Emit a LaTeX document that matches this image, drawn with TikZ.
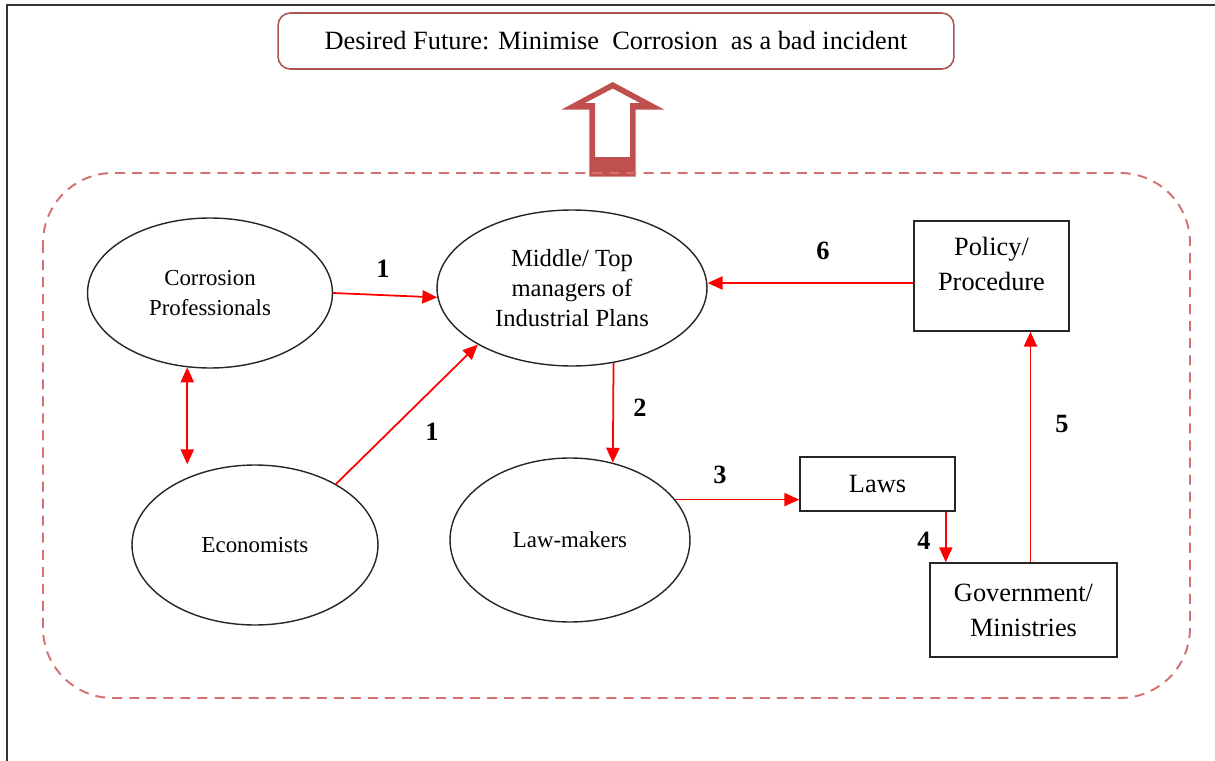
\documentclass[tikz,border=0pt]{standalone}
\usepackage{fontspec}
\setmainfont{Liberation Serif}
\usetikzlibrary{shapes.geometric,arrows.meta,calc}
\definecolor{goalred}{RGB}{170,85,85}
\definecolor{bigred}{RGB}{192,80,77}
\definecolor{dashred}{RGB}{212,112,112}

\begin{document}
\begin{tikzpicture}
[x=0.02cm,y=-0.02cm,
 ell/.style={ellipse,draw=black!85,line width=0.8pt,inner sep=0pt,align=center,font=\fontsize{13}{17.5}\selectfont},
 box/.style={rectangle,draw=black!85,line width=0.9pt,inner sep=0pt,align=center,font=\fontsize{15}{20}\selectfont},
 flow/.style={red,line width=1pt,-{Triangle[length=8.5pt,width=7.5pt]}},
 dflow/.style={red,line width=1pt,{Triangle[length=8.5pt,width=7.5pt]}-{Triangle[length=8.5pt,width=7.5pt]}},
 num/.style={font=\fontsize{15}{16}\selectfont\bfseries,inner sep=0pt}]

  \useasboundingbox (0,0) rectangle (1215,761);
  % frame
  \draw[black!80,line width=1.3pt] (7,761) -- (7,5) -- (1215,5);

  % goal on top
  \node[draw=goalred,line width=0.9pt,rounded corners=7pt,minimum width=13.52cm,minimum height=1.12cm,
        font=\fontsize{15}{16}\selectfont] (goal) at (616,41)
        {Desired Future: Minimise\ \ Corrosion\ \ as a bad incident};

  % hollow block arrow
  \fill[bigred,even odd rule]
    (612.7,82) -- (561.7,109.5) -- (589.3,109.5) -- (589.3,176.7) -- (635.7,176.7) -- (635.7,109.5) -- (664,109.5) -- cycle
    (612.7,88.5) -- (585,103) -- (595,103) -- (595,157) -- (630,157) -- (630,103) -- (640,103) -- cycle;

  % dashed boundary
  \draw[dashred,line width=1.1pt,dash pattern=on 5.7pt off 4pt,rounded corners=1.4cm]
    (43,173) rectangle (1190,698);

  % actors
  \node[ell,minimum width=4.9cm,minimum height=3cm] (cp) at (210,293) {Corrosion\\Professionals};
  \node[ell,minimum width=5.4cm,minimum height=3.12cm,font=\fontsize{14}{17}\selectfont] (mtm) at (572,288)
       {Middle/ Top\\managers of\\Industrial Plans};
  \node[ell,minimum width=4.92cm,minimum height=3.2cm] (econ) at (255,545) {Economists};
  \node[ell,minimum width=4.8cm,minimum height=3.28cm] (lm) at (570,540) {Law-makers};

  \node[box,minimum width=3.1cm,minimum height=2.2cm] (pol) at (991.5,276) {};
  \node[align=center,font=\fontsize{15}{19.5}\selectfont] (poltxt) at (991.5,264) {Policy/\\Procedure};
  \node[box,minimum width=3.1cm,minimum height=1.08cm] (laws) at (877.5,484) {Laws};
  \node[box,minimum width=3.74cm,minimum height=1.88cm] (gov) at (1023.5,610) {Government/\\Ministries};

  % connectors
  \draw[flow] (cp.east) -- (mtm.184);
  \draw[flow] (econ.37) -- (mtm.211.5);
  \draw[dflow] (cp.253.4) -- (cp.253.4 |- econ.north);
  \draw[flow] (mtm.299) -- (lm.61);
  \draw[flow] (lm.21) -- (lm.21 -| laws.west);
  \coordinate (c4) at ($(laws.south east)+(-10,0)$);
  \draw[flow] (c4) -- (c4 |- gov.north);
  \coordinate (c5) at ($(gov.north)+(7,0)$);
  \draw[flow] (c5) -- (c5 |- pol.south);
  \coordinate (c6) at ($(pol.west)+(0,7)$);
  \draw[flow] (c6) -- (c6 -| mtm.east);

  % step numbers
  \foreach \nm/\x/\y/\t in {s1a/383/269/1, s1b/432/432/1, s2/640/408/2, s3/720/475/3,
                            s4/924/541/4, s5/1062/424/5, s6/823/251/6}
    \node[num] (\nm) at (\x,\y) {\t};

\end{tikzpicture}
\end{document}
